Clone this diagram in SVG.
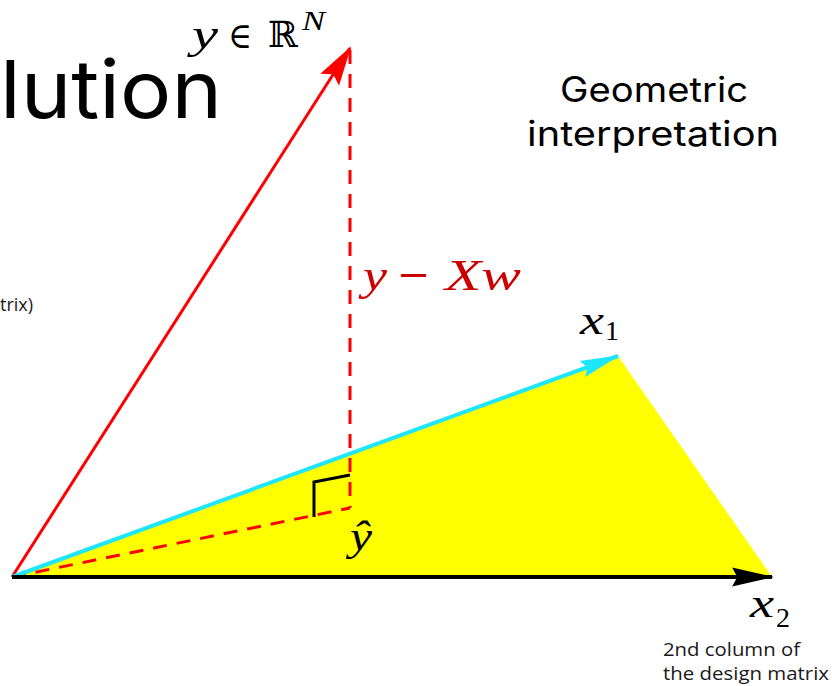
<svg xmlns="http://www.w3.org/2000/svg" width="832" height="686" viewBox="0 0 832 686">
<style>
.math{font-family:"Liberation Serif","DejaVu Serif",serif;font-style:italic;fill:#000}
.sym{font-family:"DejaVu Serif",serif;fill:#000}
.num{font-family:"Liberation Serif",serif;fill:#000}
.red{fill:#cc0000}
.title{font-family:Inter,"Noto Sans",sans-serif;fill:#000}
.note{font-family:"Open Sans","Noto Sans",sans-serif;fill:#1a1a1a;font-size:18px}
</style>
<defs>
<marker id="ah-red" markerUnits="userSpaceOnUse" markerWidth="40" markerHeight="24" viewBox="0 0 36 20" refX="34" refY="10" orient="auto"><path d="M0,0 L36,10 L0,20 L6,10 Z" fill="#ff0000"/></marker>
<marker id="ah-cyan" markerUnits="userSpaceOnUse" markerWidth="40" markerHeight="20" viewBox="0 0 38 16" refX="36" refY="8" orient="auto"><path d="M0,0 L38,8 L0,16 L5,8 Z" fill="#1ee6ff"/></marker>
<marker id="ah-black" markerUnits="userSpaceOnUse" markerWidth="42" markerHeight="20" viewBox="0 0 40 18" refX="38" refY="9" orient="auto"><path d="M0,0 L40,9 L0,18 L5,9 Z" fill="#000"/></marker>
</defs>
<rect width="832" height="686" fill="#fff"/>
<text class="title" x="0" y="118" font-size="80" textLength="222" lengthAdjust="spacingAndGlyphs">lution</text>
<g id="span">
<polygon points="12,577 618,356 772,577" fill="#ffff00"/>
</g>
<g id="connectors">
<line x1="12" y1="577" x2="350" y2="508" stroke="#ff0000" stroke-width="3" stroke-dasharray="14,10"/>
<line x1="350" y1="50" x2="350" y2="508" stroke="#ff0000" stroke-width="3" stroke-dasharray="14,10"/>
<path d="M350,475 L314,482 L314,517" fill="none" stroke="#000" stroke-width="3"/>
<line x1="12" y1="577" x2="350" y2="48" stroke="#ff0000" stroke-width="3" marker-end="url(#ah-red)"/>
<line x1="12" y1="577" x2="618" y2="356" stroke="#1ee6ff" stroke-width="4" marker-end="url(#ah-cyan)"/>
<line x1="12" y1="577" x2="772" y2="577" stroke="#000" stroke-width="4" marker-end="url(#ah-black)"/>
</g>
<g id="y-label">
<text class="math" x="192" y="48" font-size="42" textLength="26" lengthAdjust="spacingAndGlyphs">y</text>
<text class="sym" x="228" y="48" font-size="36" textLength="24" lengthAdjust="spacingAndGlyphs">∈</text>
<text class="sym" x="268" y="47" font-size="36">ℝ</text>
<text class="math" x="302" y="30" font-size="28" textLength="23" lengthAdjust="spacingAndGlyphs">N</text>
</g>
<g id="residual-label">
<text class="math red" x="363" y="290" font-size="44" textLength="24" lengthAdjust="spacingAndGlyphs">y</text>
<text class="sym red" x="397" y="288" font-size="40">−</text>
<text class="math red" x="445" y="290" font-size="44" textLength="76" lengthAdjust="spacingAndGlyphs">Xw</text>
</g>
<g id="x1-label">
<text class="math" x="580" y="334" font-size="42" textLength="24" lengthAdjust="spacingAndGlyphs">x</text>
<text class="num" x="605" y="340" font-size="28">1</text>
</g>
<g id="yhat-label">
<text class="math" x="350" y="550" font-size="42" textLength="22" lengthAdjust="spacingAndGlyphs">ŷ</text>
</g>
<g id="x2-label">
<text class="math" x="750" y="617" font-size="42" textLength="24" lengthAdjust="spacingAndGlyphs">x</text>
<text class="num" x="776" y="627" font-size="28">2</text>
</g>
<g id="heading">
<text class="title" x="560" y="102" font-size="35" textLength="188" lengthAdjust="spacingAndGlyphs">Geometric</text>
<text class="title" x="527" y="146" font-size="35" textLength="252" lengthAdjust="spacingAndGlyphs">interpretation</text>
</g>
<g id="notes">
<text class="note" x="663" y="656" textLength="137" lengthAdjust="spacingAndGlyphs">2nd column of</text>
<text class="note" x="663" y="680" textLength="166" lengthAdjust="spacingAndGlyphs">the design matrix</text>
<text class="note" x="0" y="311">trix)</text>
</g>
</svg>
